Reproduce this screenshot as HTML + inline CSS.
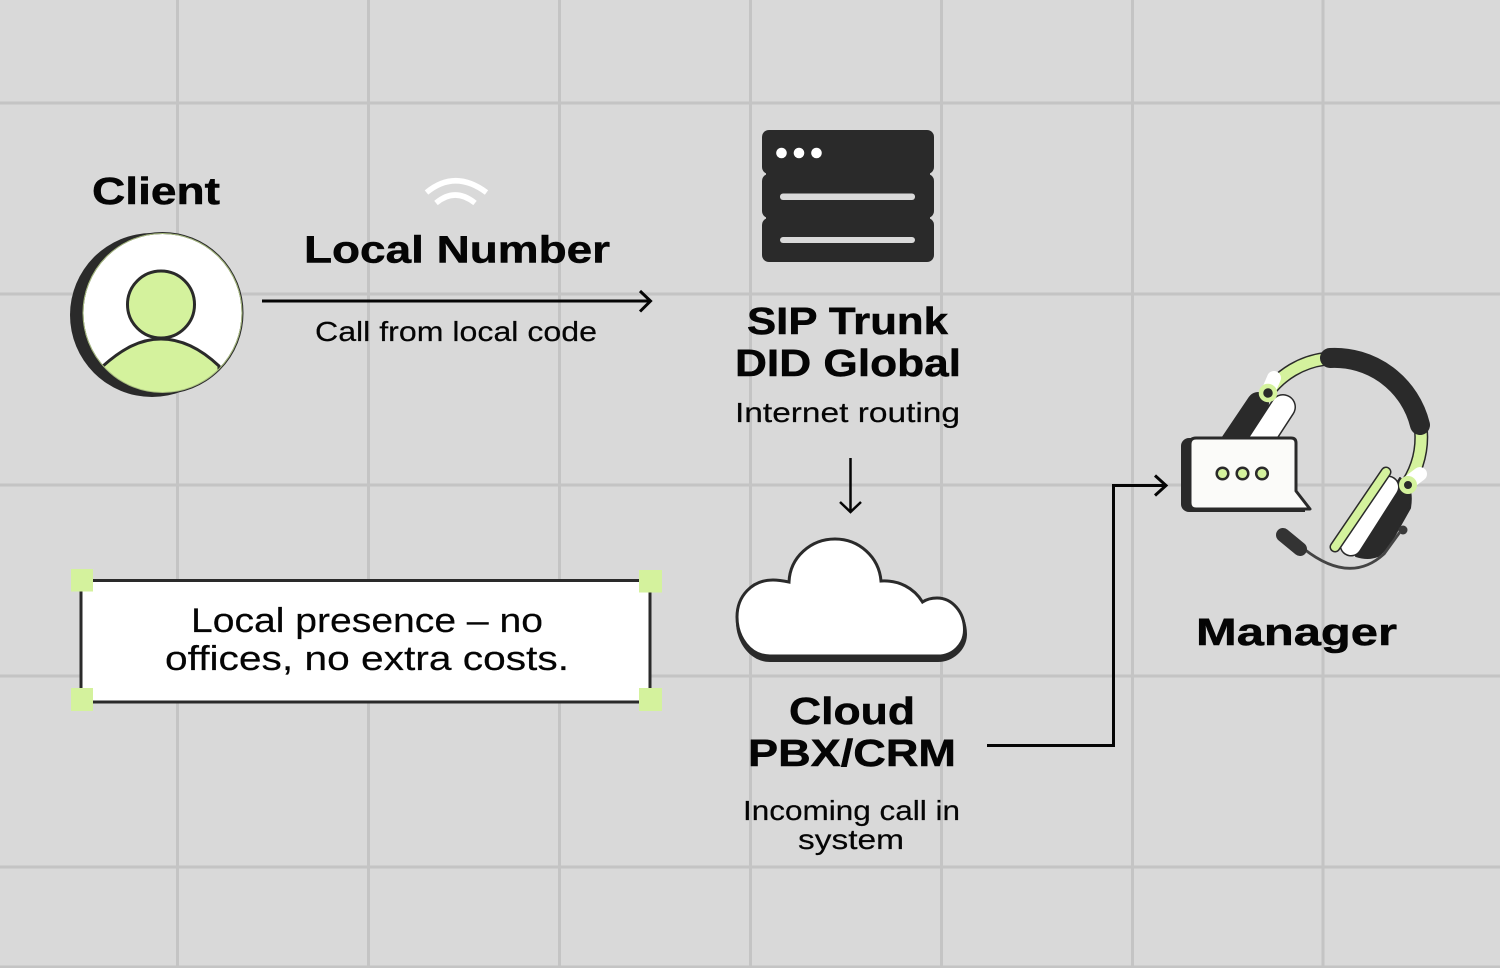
<!DOCTYPE html>
<html>
<head>
<meta charset="utf-8">
<style>
html,body{margin:0;padding:0;background:#d9d9d9}
svg{display:block}
text{font-family:"Liberation Sans",sans-serif;fill:#050505}
.h{font-weight:700;font-size:38px;stroke:#050505;stroke-width:.5px}
.s{font-size:27.500px;stroke:#050505;stroke-width:.2px}
.b{font-size:34.500px;stroke:#050505;stroke-width:.2px}
</style>
</head>
<body>
<svg width="1500" height="968" viewBox="0 0 1500 968" xmlns="http://www.w3.org/2000/svg">
<rect width="1500" height="968" fill="#d9d9d9"/>
<g stroke="#c4c4c4" stroke-width="3">
<path d="M177.500 0V968M368.500 0V968M559.500 0V968M750.500 0V968M941.500 0V968M1132.500 0V968M1323 0V968"/>
<path d="M0 103H1500M0 294H1500M0 485H1500M0 676H1500M0 867H1500M0 967H1500"/>
</g>

<!-- Client -->
<text class="h" x="92" y="204" textLength="128" lengthAdjust="spacingAndGlyphs">Client</text>
<circle cx="152" cy="315" r="82" fill="#2a2a2a"/>
<clipPath id="c"><circle cx="162.500" cy="313" r="79.500"/></clipPath>
<circle cx="162.500" cy="313" r="80" fill="#fff" stroke="#2a2a2a" stroke-width="2"/>
<g clip-path="url(#c)">
<path d="M103 366C122 349 140 339 161 339C182 339 201 349 219 366L219 400H103Z" fill="#d4f29d" stroke="#2a2a2a" stroke-width="3"/>
</g>
<circle cx="162.500" cy="313" r="79.500" fill="none" stroke="#a9bd80" stroke-width="1"/>
<circle cx="161" cy="304.500" r="33.500" fill="#d4f29d" stroke="#2a2a2a" stroke-width="3"/>

<!-- Wifi -->
<path d="M426.500 192.500Q455 169 486.500 192.500" fill="none" stroke="#fff" stroke-width="5.500"/>
<path d="M436 203Q455 187 475 203" fill="none" stroke="#fff" stroke-width="5.500"/>

<!-- Local number -->
<text class="h" x="304" y="262.500" textLength="306" lengthAdjust="spacingAndGlyphs">Local Number</text>
<path d="M262 301H650M640 291L650.500 301L640 311.500" fill="none" stroke="#050505" stroke-width="3"/>
<text class="s" x="315" y="341" textLength="282" lengthAdjust="spacingAndGlyphs">Call from local code</text>

<!-- Server -->
<rect x="762" y="130" width="172" height="44" rx="7" fill="#2a2a2a"/>
<rect x="762" y="174" width="172" height="44" rx="7" fill="#2a2a2a"/>
<rect x="762" y="218" width="172" height="44" rx="7" fill="#2a2a2a"/>
<rect x="766" y="165" width="164" height="18" fill="#2a2a2a"/>
<rect x="766" y="209" width="164" height="18" fill="#2a2a2a"/>
<circle cx="781.500" cy="153" r="5.300" fill="#fff"/>
<circle cx="799" cy="153" r="5.300" fill="#fff"/>
<circle cx="816.500" cy="153" r="5.300" fill="#fff"/>
<rect x="780" y="193.500" width="135" height="6.500" rx="3" fill="#d9d9d9"/>
<rect x="780" y="237" width="135" height="6" rx="3" fill="#d9d9d9"/>

<text class="h" x="747" y="334" textLength="201" lengthAdjust="spacingAndGlyphs">SIP Trunk</text>
<text class="h" x="735" y="376" textLength="226" lengthAdjust="spacingAndGlyphs">DID Global</text>
<text class="s" x="735" y="422" textLength="225" lengthAdjust="spacingAndGlyphs">Internet routing</text>

<path d="M850.500 458V511M840 502L850.500 512L861 502" fill="none" stroke="#050505" stroke-width="2.500"/>

<!-- Cloud -->
<path d="M770 662C750 662 736 642 736 622C736 598 752 580 773 580C779 580 784 581 789 582C790 557 811 538 835 538C859 538 879 557 881 581C899 580 914 588 922.500 602C927 599 932 598 937 598C953 598 967 614 967 634C967 650 953 662 938 662Z" fill="#2a2a2a"/>
<path d="M770 656C750 656 737 637 737 617C737 596 752 580 773 580C779 580 784 581 789 582C790 557 811 539 835 539C859 539 879 557 881 581C899 580 914 588 922.500 602C927 599 932 598 937 598C952 598 964.500 612 964.500 630C964.500 644 953 656 938 656Z" fill="#fff" stroke="#2a2a2a" stroke-width="3"/>

<text class="h" x="789" y="724" textLength="126" lengthAdjust="spacingAndGlyphs">Cloud</text>
<text class="h" x="748" y="766" textLength="208" lengthAdjust="spacingAndGlyphs">PBX/CRM</text>
<text class="s" x="743" y="820" textLength="217" lengthAdjust="spacingAndGlyphs">Incoming call in</text>
<text class="s" x="798" y="849" textLength="106" lengthAdjust="spacingAndGlyphs">system</text>

<path d="M987 745.500H1113.500V485.500H1165M1155 475.500L1166 485.500L1155 495.500" fill="none" stroke="#050505" stroke-width="3"/>

<!-- Note -->
<rect x="81" y="580.500" width="569" height="121.500" fill="#fff" stroke="#2a2a2a" stroke-width="3"/>
<g fill="#d4f29d">
<rect x="71" y="569" width="22" height="22.500"/>
<rect x="639" y="570" width="23" height="22.500"/>
<rect x="71" y="688" width="22" height="23"/>
<rect x="639" y="688" width="23" height="23"/>
</g>
<text class="b" x="191" y="632" textLength="352" lengthAdjust="spacingAndGlyphs">Local presence – no</text>
<text class="b" x="165" y="670" textLength="404" lengthAdjust="spacingAndGlyphs">offices, no extra costs.</text>

<!-- Headset -->
<path d="M1268 392A85 85 0 0 1 1324 359" fill="none" stroke="#2a2a2a" stroke-width="14"/>
<path d="M1268 392A85 85 0 0 1 1324 359" fill="none" stroke="#d4f29d" stroke-width="11"/>
<path d="M1421 430A86 86 0 0 1 1408 483" fill="none" stroke="#2a2a2a" stroke-width="14"/>
<path d="M1421 430A86 86 0 0 1 1408 483" fill="none" stroke="#d4f29d" stroke-width="11"/>
<path d="M1330 358A88 88 0 0 1 1420 425" fill="none" stroke="#2a2a2a" stroke-width="20" stroke-linecap="round"/>
<path d="M1274 378L1268 392" stroke="#fff" stroke-width="14" stroke-linecap="round"/>
<path d="M1420 474L1408 483" stroke="#fff" stroke-width="14" stroke-linecap="round"/>
<path d="M1258 403L1225 452" stroke="#2a2a2a" stroke-width="22" stroke-linecap="round"/>
<path d="M1283 407L1255 450" stroke="#2a2a2a" stroke-width="26" stroke-linecap="round"/>
<path d="M1283 407L1255 450" stroke="#fff" stroke-width="23" stroke-linecap="round"/>
<circle cx="1268" cy="393" r="7" fill="#2a2a2a" stroke="#d4f29d" stroke-width="4.500"/>

<rect x="1181" y="438" width="100" height="74" rx="8" fill="#2a2a2a"/>
<rect x="1270" y="508" width="35" height="4" fill="#2a2a2a"/>
<path d="M1196 438H1291Q1296 438 1296 443V491L1310 509H1196Q1190 509 1190 503V444Q1190 438 1196 438Z" fill="#fbfbf9" stroke="#2a2a2a" stroke-width="3" stroke-linejoin="round"/>
<circle cx="1222.500" cy="473.500" r="5.800" fill="#d4f29d" stroke="#2a2a2a" stroke-width="2.500"/>
<circle cx="1242.500" cy="473.500" r="5.800" fill="#d4f29d" stroke="#2a2a2a" stroke-width="2.500"/>
<circle cx="1262" cy="473.500" r="5.800" fill="#d4f29d" stroke="#2a2a2a" stroke-width="2.500"/>

<path d="M1400 478L1409 488Q1412 495 1410 508L1392 540Q1384 552 1378 556Q1368 560 1356 556Z" fill="#2a2a2a" stroke="#2a2a2a" stroke-width="2" stroke-linejoin="round"/>
<path d="M1388 487L1351 545" stroke="#2a2a2a" stroke-width="23" stroke-linecap="round"/>
<path d="M1388 487L1351 545" stroke="#fff" stroke-width="20" stroke-linecap="round"/>
<path d="M1386 472L1335 547" stroke="#2a2a2a" stroke-width="11" stroke-linecap="round"/>
<path d="M1386 472L1335 547" stroke="#d4f29d" stroke-width="8" stroke-linecap="round"/>
<circle cx="1408" cy="485" r="6.500" fill="#2a2a2a" stroke="#d4f29d" stroke-width="5"/>
<circle cx="1403" cy="530" r="4.500" fill="#3a3a3a"/>
<path d="M1304 549Q1350 585 1384 554L1400 532" fill="none" stroke="#444" stroke-width="2.800"/>
<path d="M1283 535L1300 549" stroke="#333" stroke-width="14" stroke-linecap="round"/>

<text class="h" x="1196" y="645" textLength="201" lengthAdjust="spacingAndGlyphs">Manager</text>
</svg>
</body>
</html>
